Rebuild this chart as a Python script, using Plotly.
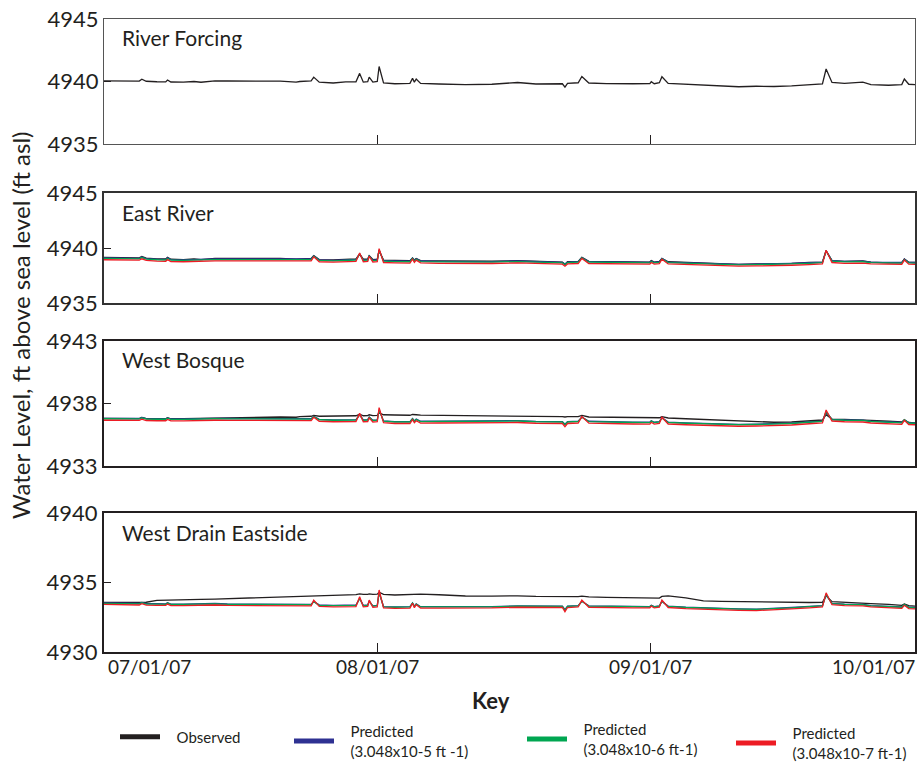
import plotly.graph_objects as go

# ---------------- data ----------------
times = [
    "2007-07-01 00:00", "2007-07-03 00:00", "2007-07-05 00:00", "2007-07-05 07:00", "2007-07-05 19:00",
    "2007-07-07 00:00", "2007-07-08 00:00", "2007-07-08 05:00", "2007-07-08 14:00", "2007-07-10 00:00",
    "2007-07-11 05:00", "2007-07-12 00:00", "2007-07-13 14:00", "2007-07-15 00:00", "2007-07-17 00:00",
    "2007-07-19 00:00", "2007-07-21 00:00", "2007-07-22 19:00", "2007-07-23 05:00", "2007-07-24 12:00",
    "2007-07-24 19:00", "2007-07-25 10:00", "2007-07-27 00:00", "2007-07-28 10:00", "2007-07-29 14:00",
    "2007-07-30 00:00", "2007-07-30 10:00", "2007-07-30 22:00", "2007-07-31 02:00", "2007-07-31 12:00",
    "2007-08-01 00:00", "2007-08-01 05:00", "2007-08-01 17:00", "2007-08-03 00:00", "2007-08-04 17:00",
    "2007-08-05 00:00", "2007-08-05 05:00", "2007-08-05 10:00", "2007-08-05 22:00", "2007-08-08 00:00",
    "2007-08-11 00:00", "2007-08-14 00:00", "2007-08-16 22:00", "2007-08-19 00:00", "2007-08-22 00:00",
    "2007-08-22 07:00", "2007-08-22 14:00", "2007-08-23 19:00", "2007-08-24 05:00", "2007-08-25 00:00",
    "2007-08-27 00:00", "2007-08-30 00:00", "2007-08-31 22:00", "2007-09-01 02:00", "2007-09-01 10:00",
    "2007-09-02 00:00", "2007-09-02 07:00", "2007-09-03 00:00", "2007-09-05 00:00", "2007-09-07 00:00",
    "2007-09-09 00:00", "2007-09-11 00:00", "2007-09-13 00:00", "2007-09-15 00:00", "2007-09-17 00:00",
    "2007-09-19 00:00", "2007-09-20 12:00", "2007-09-20 22:00", "2007-09-21 14:00", "2007-09-23 00:00",
    "2007-09-25 02:00", "2007-09-26 00:00", "2007-09-28 00:00", "2007-09-29 12:00", "2007-09-29 19:00",
    "2007-09-30 07:00", "2007-10-01 00:00",
]

# River Forcing (observed)
river_forcing = [
    4940.05, 4940.05, 4940.03, 4940.18, 4940.02, 4939.98, 4939.97, 4940.12, 4939.96, 4939.95,
    4940.00, 4939.94, 4940.05, 4940.04, 4940.04, 4940.02, 4940.03, 4939.95, 4940.00, 4940.05,
    4940.35, 4939.95, 4939.88, 4939.97, 4939.98, 4940.65, 4939.95, 4939.98, 4940.35, 4939.95,
    4940.00, 4941.20, 4939.88, 4939.82, 4939.85, 4940.25, 4939.95, 4940.20, 4939.85, 4939.80,
    4939.75, 4939.78, 4939.92, 4939.80, 4939.82, 4939.55, 4939.85, 4939.90, 4940.40, 4939.88,
    4939.83, 4939.82, 4939.83, 4939.98, 4939.82, 4939.90, 4940.38, 4939.85, 4939.78, 4939.70,
    4939.62, 4939.58, 4939.62, 4939.60, 4939.65, 4939.75, 4939.80, 4941.00, 4939.92, 4939.85,
    4939.95, 4939.75, 4939.70, 4939.75, 4940.20, 4939.78, 4939.75,
]

# East River
er_observed = [
    4939.15, 4939.12, 4939.10, 4939.22, 4939.08, 4939.02, 4939.00, 4939.15, 4938.98, 4938.95,
    4939.00, 4938.95, 4939.05, 4939.05, 4939.05, 4939.02, 4939.05, 4938.98, 4939.00, 4939.05,
    4939.30, 4938.95, 4938.92, 4939.00, 4939.00, 4939.45, 4938.98, 4939.00, 4939.30, 4938.95,
    4938.98, 4939.75, 4938.90, 4938.88, 4938.85, 4939.10, 4938.90, 4939.05, 4938.85, 4938.82,
    4938.78, 4938.80, 4938.85, 4938.78, 4938.72, 4938.50, 4938.75, 4938.78, 4939.15, 4938.78,
    4938.75, 4938.72, 4938.72, 4938.85, 4938.72, 4938.78, 4939.05, 4938.75, 4938.68, 4938.62,
    4938.55, 4938.52, 4938.55, 4938.55, 4938.60, 4938.68, 4938.72, 4939.75, 4938.85, 4938.78,
    4938.82, 4938.72, 4938.65, 4938.68, 4939.00, 4938.70, 4938.68,
]
er_pred_5 = [
    4939.10, 4939.08, 4939.06, 4939.18, 4939.04, 4938.98, 4938.96, 4939.10, 4938.94, 4938.92,
    4938.96, 4938.92, 4939.00, 4939.00, 4939.00, 4938.98, 4939.00, 4938.95, 4938.96, 4939.00,
    4939.28, 4938.92, 4938.88, 4938.95, 4938.96, 4939.45, 4938.92, 4938.95, 4939.28, 4938.90,
    4938.93, 4939.80, 4938.85, 4938.82, 4938.80, 4939.08, 4938.86, 4939.02, 4938.82, 4938.78,
    4938.75, 4938.76, 4938.82, 4938.75, 4938.70, 4938.55, 4938.72, 4938.76, 4939.12, 4938.76,
    4938.73, 4938.70, 4938.70, 4938.82, 4938.70, 4938.75, 4939.05, 4938.72, 4938.66, 4938.60,
    4938.54, 4938.52, 4938.54, 4938.55, 4938.60, 4938.66, 4938.72, 4939.75, 4938.85, 4938.78,
    4938.80, 4938.72, 4938.66, 4938.68, 4938.98, 4938.70, 4938.68,
]
er_pred_6 = [
    4939.05, 4939.03, 4939.01, 4939.13, 4938.99, 4938.93, 4938.91, 4939.05, 4938.89, 4938.87,
    4938.91, 4938.87, 4938.95, 4938.95, 4938.95, 4938.93, 4938.95, 4938.90, 4938.91, 4938.95,
    4939.25, 4938.87, 4938.83, 4938.90, 4938.91, 4939.45, 4938.87, 4938.90, 4939.25, 4938.85,
    4938.88, 4939.82, 4938.80, 4938.77, 4938.75, 4939.05, 4938.81, 4938.98, 4938.77, 4938.73,
    4938.70, 4938.71, 4938.77, 4938.70, 4938.65, 4938.50, 4938.67, 4938.71, 4939.10, 4938.71,
    4938.68, 4938.65, 4938.65, 4938.78, 4938.65, 4938.70, 4939.02, 4938.67, 4938.61, 4938.55,
    4938.49, 4938.47, 4938.49, 4938.50, 4938.55, 4938.61, 4938.67, 4939.75, 4938.80, 4938.73,
    4938.75, 4938.67, 4938.61, 4938.63, 4938.95, 4938.65, 4938.63,
]
er_pred_7 = [
    4938.93, 4938.91, 4938.89, 4939.02, 4938.87, 4938.81, 4938.79, 4938.94, 4938.77, 4938.75,
    4938.79, 4938.75, 4938.83, 4938.83, 4938.83, 4938.81, 4938.83, 4938.78, 4938.79, 4938.83,
    4939.20, 4938.75, 4938.71, 4938.78, 4938.79, 4939.55, 4938.75, 4938.78, 4939.25, 4938.73,
    4938.76, 4939.94, 4938.68, 4938.65, 4938.63, 4938.98, 4938.69, 4938.90, 4938.65, 4938.61,
    4938.58, 4938.59, 4938.65, 4938.58, 4938.53, 4938.35, 4938.55, 4938.59, 4939.05, 4938.59,
    4938.56, 4938.53, 4938.53, 4938.68, 4938.53, 4938.58, 4938.98, 4938.55, 4938.49, 4938.43,
    4938.37, 4938.35, 4938.37, 4938.38, 4938.43, 4938.49, 4938.55, 4939.80, 4938.68, 4938.61,
    4938.63, 4938.55, 4938.49, 4938.51, 4938.90, 4938.53, 4938.51,
]

# West Bosque
wb_observed = [
    4936.80, 4936.80, 4936.79, 4936.88, 4936.79, 4936.78, 4936.78, 4936.86, 4936.78, 4936.78,
    4936.80, 4936.79, 4936.83, 4936.83, 4936.85, 4936.88, 4936.92, 4936.90, 4936.95, 4936.98,
    4937.05, 4936.98, 4937.00, 4937.02, 4937.02, 4937.15, 4937.02, 4937.03, 4937.10, 4937.03,
    4937.05, 4937.25, 4937.10, 4937.08, 4937.06, 4937.12, 4937.08, 4937.10, 4937.07, 4937.06,
    4937.05, 4937.02, 4937.02, 4936.98, 4936.95, 4936.92, 4936.95, 4936.95, 4937.05, 4936.92,
    4936.90, 4936.88, 4936.86, 4936.90, 4936.86, 4936.86, 4936.95, 4936.84, 4936.78, 4936.72,
    4936.66, 4936.60, 4936.55, 4936.50, 4936.52, 4936.62, 4936.68, 4937.10, 4936.75, 4936.72,
    4936.70, 4936.64, 4936.58, 4936.52, 4936.68, 4936.48, 4936.45,
]
wb_pred_5 = [
    4936.81, 4936.81, 4936.80, 4936.88, 4936.79, 4936.77, 4936.77, 4936.85, 4936.76, 4936.76,
    4936.79, 4936.77, 4936.81, 4936.80, 4936.80, 4936.79, 4936.79, 4936.75, 4936.77, 4936.78,
    4936.97, 4936.73, 4936.69, 4936.71, 4936.71, 4937.10, 4936.69, 4936.71, 4936.92, 4936.67,
    4936.69, 4937.48, 4936.61, 4936.55, 4936.55, 4936.80, 4936.61, 4936.75, 4936.58, 4936.59,
    4936.60, 4936.59, 4936.63, 4936.57, 4936.55, 4936.35, 4936.55, 4936.59, 4936.92, 4936.58,
    4936.53, 4936.51, 4936.50, 4936.62, 4936.50, 4936.55, 4936.86, 4936.51, 4936.45, 4936.39,
    4936.35, 4936.33, 4936.35, 4936.38, 4936.43, 4936.53, 4936.59, 4937.32, 4936.72, 4936.69,
    4936.67, 4936.59, 4936.51, 4936.48, 4936.70, 4936.47, 4936.45,
]
wb_pred_6 = [
    4936.78, 4936.78, 4936.77, 4936.85, 4936.76, 4936.74, 4936.74, 4936.82, 4936.73, 4936.73,
    4936.76, 4936.74, 4936.78, 4936.77, 4936.77, 4936.76, 4936.76, 4936.72, 4936.74, 4936.75,
    4936.95, 4936.70, 4936.66, 4936.68, 4936.68, 4937.10, 4936.66, 4936.68, 4936.90, 4936.64,
    4936.66, 4937.50, 4936.58, 4936.52, 4936.52, 4936.78, 4936.58, 4936.72, 4936.55, 4936.56,
    4936.57, 4936.56, 4936.60, 4936.54, 4936.52, 4936.30, 4936.52, 4936.56, 4936.90, 4936.55,
    4936.50, 4936.48, 4936.47, 4936.60, 4936.47, 4936.52, 4936.85, 4936.48, 4936.42, 4936.36,
    4936.32, 4936.30, 4936.32, 4936.35, 4936.40, 4936.50, 4936.56, 4937.35, 4936.70, 4936.66,
    4936.64, 4936.56, 4936.48, 4936.45, 4936.70, 4936.44, 4936.42,
]
wb_pred_7 = [
    4936.66, 4936.66, 4936.65, 4936.75, 4936.64, 4936.62, 4936.62, 4936.72, 4936.61, 4936.61,
    4936.64, 4936.62, 4936.66, 4936.65, 4936.65, 4936.64, 4936.64, 4936.60, 4936.62, 4936.63,
    4936.90, 4936.58, 4936.54, 4936.56, 4936.56, 4937.21, 4936.54, 4936.56, 4936.85, 4936.52,
    4936.54, 4937.67, 4936.46, 4936.40, 4936.40, 4936.70, 4936.46, 4936.62, 4936.43, 4936.44,
    4936.45, 4936.44, 4936.48, 4936.42, 4936.40, 4936.15, 4936.40, 4936.44, 4936.95, 4936.43,
    4936.38, 4936.36, 4936.35, 4936.50, 4936.35, 4936.40, 4936.90, 4936.36, 4936.30, 4936.24,
    4936.20, 4936.18, 4936.20, 4936.23, 4936.28, 4936.38, 4936.44, 4937.48, 4936.60, 4936.54,
    4936.52, 4936.44, 4936.36, 4936.33, 4936.65, 4936.32, 4936.30,
]

# West Drain Eastside
wde_observed = [
    4933.57, 4933.58, 4933.58, 4933.62, 4933.58, 4933.72, 4933.74, 4933.76, 4933.74, 4933.76,
    4933.78, 4933.79, 4933.81, 4933.84, 4933.87, 4933.90, 4933.94, 4933.97, 4933.98, 4934.02,
    4934.06, 4934.03, 4934.08, 4934.12, 4934.13, 4934.18, 4934.14, 4934.15, 4934.18, 4934.15,
    4934.16, 4934.30, 4934.14, 4934.10, 4934.14, 4934.18, 4934.17, 4934.18, 4934.16, 4934.12,
    4934.03, 4934.02, 4934.04, 4934.00, 4933.98, 4933.97, 4933.98, 4933.98, 4934.02, 4933.97,
    4933.93, 4933.88, 4933.86, 4933.88, 4933.86, 4933.88, 4934.00, 4934.04, 4933.90, 4933.68,
    4933.64, 4933.62, 4933.60, 4933.58, 4933.57, 4933.56, 4933.58, 4934.05, 4933.62, 4933.56,
    4933.52, 4933.48, 4933.42, 4933.36, 4933.45, 4933.33, 4933.30,
]
wde_pred_5 = [
    4933.53, 4933.51, 4933.49, 4933.57, 4933.48, 4933.47, 4933.46, 4933.54, 4933.45, 4933.45,
    4933.47, 4933.45, 4933.49, 4933.46, 4933.45, 4933.43, 4933.43, 4933.40, 4933.41, 4933.43,
    4933.63, 4933.39, 4933.36, 4933.38, 4933.38, 4933.85, 4933.36, 4933.39, 4933.65, 4933.32,
    4933.35, 4934.28, 4933.27, 4933.24, 4933.26, 4933.52, 4933.29, 4933.46, 4933.26, 4933.26,
    4933.25, 4933.27, 4933.32, 4933.30, 4933.30, 4933.05, 4933.30, 4933.34, 4933.65, 4933.32,
    4933.29, 4933.28, 4933.27, 4933.36, 4933.27, 4933.32, 4933.64, 4933.30, 4933.22, 4933.17,
    4933.14, 4933.10, 4933.08, 4933.12, 4933.20, 4933.28, 4933.34, 4934.12, 4933.50, 4933.44,
    4933.42, 4933.34, 4933.28, 4933.24, 4933.42, 4933.22, 4933.20,
]
wde_pred_6 = [
    4933.50, 4933.48, 4933.46, 4933.55, 4933.45, 4933.44, 4933.43, 4933.52, 4933.42, 4933.42,
    4933.44, 4933.42, 4933.46, 4933.43, 4933.42, 4933.40, 4933.40, 4933.37, 4933.38, 4933.40,
    4933.62, 4933.36, 4933.33, 4933.35, 4933.35, 4933.85, 4933.33, 4933.36, 4933.65, 4933.30,
    4933.33, 4934.30, 4933.25, 4933.22, 4933.24, 4933.52, 4933.27, 4933.45, 4933.24, 4933.24,
    4933.23, 4933.25, 4933.30, 4933.28, 4933.28, 4933.00, 4933.28, 4933.32, 4933.65, 4933.30,
    4933.27, 4933.26, 4933.25, 4933.35, 4933.25, 4933.30, 4933.65, 4933.28, 4933.20, 4933.15,
    4933.12, 4933.08, 4933.06, 4933.10, 4933.18, 4933.26, 4933.32, 4934.15, 4933.48, 4933.42,
    4933.40, 4933.32, 4933.26, 4933.22, 4933.42, 4933.20, 4933.18,
]
wde_pred_7 = [
    4933.42, 4933.40, 4933.38, 4933.48, 4933.37, 4933.36, 4933.35, 4933.45, 4933.34, 4933.34,
    4933.36, 4933.34, 4933.38, 4933.35, 4933.34, 4933.32, 4933.32, 4933.29, 4933.30, 4933.32,
    4933.73, 4933.28, 4933.25, 4933.27, 4933.27, 4933.98, 4933.25, 4933.28, 4933.73, 4933.22,
    4933.25, 4934.46, 4933.17, 4933.14, 4933.16, 4933.50, 4933.19, 4933.40, 4933.16, 4933.16,
    4933.15, 4933.17, 4933.22, 4933.20, 4933.20, 4932.90, 4933.20, 4933.24, 4933.73, 4933.22,
    4933.19, 4933.18, 4933.17, 4933.30, 4933.17, 4933.22, 4933.73, 4933.20, 4933.12, 4933.07,
    4933.04, 4933.00, 4932.98, 4933.02, 4933.10, 4933.18, 4933.24, 4934.26, 4933.40, 4933.34,
    4933.32, 4933.24, 4933.18, 4933.14, 4933.36, 4933.12, 4933.10,
]

panel_titles = ["River Forcing", "East River", "West Bosque", "West Drain Eastside"]
y_tick_values = [[4935, 4940, 4945], [4935, 4940, 4945], [4933, 4938, 4943], [4930, 4935, 4940]]
x_tick_values = ["2007-07-01", "2007-08-01", "2007-09-01", "2007-10-01"]
x_tick_labels = ["07/01/07", "08/01/07", "09/01/07", "10/01/07"]
NB = "\u00a0\u00a0\u00a0"
series_names = [NB + "Observed",
                NB + "Predicted<br>" + NB + "(3.048x10-5 ft -1)",
                NB + "Predicted<br>" + NB + "(3.048x10-6 ft-1)",
                NB + "Predicted<br>" + NB + "(3.048x10-7 ft-1)"]

# ---------------- style ----------------
FONT = "Lato"
TXT = "#231f20"
COLORS = ["#231f20", "#2e3192", "#00a651", "#ed1c24"]
W, H = 918, 764

# pixel geometry of panels (top, bottom)
panel_px = [(19, 144), (193, 303), (341, 466), (513, 652)]
box_width = [1.0, 1.5, 2.0, 2.0]
box_color = ["#555555", "#333333", "#231f20", "#231f20"]

panel_series = [
    [river_forcing],
    [er_observed, er_pred_5, er_pred_6, er_pred_7],
    [wb_observed, wb_pred_5, wb_pred_6, wb_pred_7],
    [wde_observed, wde_pred_5, wde_pred_6, wde_pred_7],
]
legend_ids = ["legend", "legend2", "legend3", "legend4"]

fig = go.Figure()
shown = set()
for p, series in enumerate(panel_series):
    ax = "" if p == 0 else str(p + 1)
    for s, vals in enumerate(series):
        show = s not in shown and p == 3
        if show:
            shown.add(s)
        fig.add_trace(go.Scatter(
            x=times, y=vals, mode="lines",
            line=dict(color=COLORS[s], width=1.3),
            name=series_names[s], legend=legend_ids[s],
            showlegend=show,
            xaxis="x" + ax, yaxis="y" + ax,
        ))

layout = dict(
    width=W, height=H,
    margin=dict(l=0, r=0, t=0, b=0, pad=0, autoexpand=False),
    paper_bgcolor="white", plot_bgcolor="white",
    font=dict(family=FONT, color=TXT, size=20),
    annotations=[], shapes=[],
)

x_left, x_right = 104 / W, 915 / W
for p in range(4):
    ax = "" if p == 0 else str(p + 1)
    top, bot = panel_px[p]
    layout["xaxis" + ax] = dict(
        domain=[x_left, x_right], anchor="y" + ax,
        range=["2007-07-01", "2007-10-01"],
        tickvals=x_tick_values, showticklabels=False,
        ticks="inside", ticklen=9, tickwidth=1, tickcolor=TXT,
        showline=True, linecolor=box_color[p], linewidth=box_width[p], mirror=True,
        showgrid=False, zeroline=False, automargin=False,
        **({} if p == 0 else {"matches": "x"}),
    )
    layout["yaxis" + ax] = dict(
        domain=[1 - bot / H, 1 - top / H], anchor="x" + ax,
        range=[y_tick_values[p][0], y_tick_values[p][-1]],
        tickvals=y_tick_values[p], ticktext=[str(v) for v in y_tick_values[p]],
        ticks="inside", ticklen=7, tickwidth=1, tickcolor=TXT,
        ticklabelstandoff=0, automargin=False,
        tickfont=dict(size=22, family=FONT, color=TXT),
        showline=True, linecolor=box_color[p], linewidth=box_width[p], mirror=True,
        showgrid=False, zeroline=False,
    )
    # panel title
    layout["annotations"].append(dict(
        text=panel_titles[p], xref="paper", yref="paper",
        x=120 / W, y=1 - (top + 19) / H, xanchor="left", yanchor="middle",
        showarrow=False, font=dict(size=21, family=FONT, color=TXT),
    ))

# x tick labels under bottom panel (positioned on the date scale)
anchors = ["left", "center", "center", "right"]
shifts = [2, 0, 0, 2]
for val, lab, anc, sh in zip(x_tick_values, x_tick_labels, anchors, shifts):
    layout["annotations"].append(dict(
        text=lab, xref="x4", yref="paper", x=val, y=1 - 666 / H,
        xanchor=anc, yanchor="middle", xshift=sh, showarrow=False,
        font=dict(size=19, family=FONT, color=TXT),
    ))

# y-axis title
layout["annotations"].append(dict(
    text="Water Level, ft above sea level (ft asl)", xref="paper", yref="paper",
    x=20 / W, y=1 - 326 / H, textangle=-90, xanchor="center", yanchor="middle",
    showarrow=False, font=dict(size=24, family=FONT, color=TXT),
))
# Key title
layout["annotations"].append(dict(
    text="<b>Key</b>", xref="paper", yref="paper",
    x=491 / W, y=1 - 700 / H, xanchor="center", yanchor="middle",
    showarrow=False, font=dict(size=22, family=FONT, color=TXT),
))

# legends
legend_pos = [(115, 737), (289, 741), (522, 739), (731, 743)]
for lid, (lx, ly) in zip(legend_ids, legend_pos):
    layout[lid] = dict(
        x=lx / W, y=1 - ly / H, xanchor="left", yanchor="middle",
        xref="paper", yref="paper",
        bgcolor="rgba(0,0,0,0)", borderwidth=0,
        font=dict(size=15, family=FONT, color=TXT),
        itemwidth=40, itemsizing="constant",
    )

fig.update_layout(**layout)
fig.write_html("out.html", config={"displayModeBar": False},
               post_script="document.body.style.margin='0px';")
